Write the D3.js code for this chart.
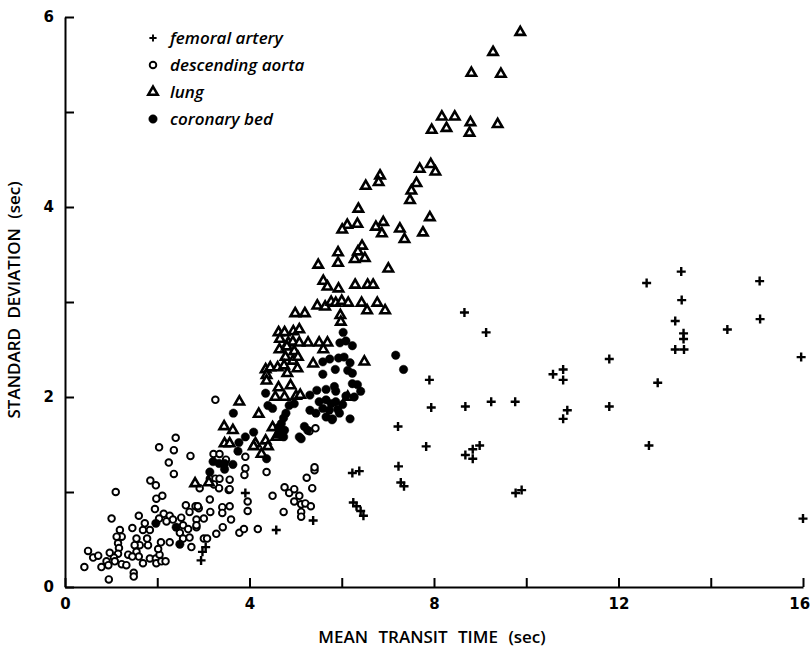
<!DOCTYPE html>
<html>
<head>
<meta charset="utf-8">
<script src="https://cdn.jsdelivr.net/npm/d3@7"></script>
<style>
  body { margin: 0; background: #fff; }
  svg { display: block; font-family: "Open Sans", "DejaVu Sans", sans-serif; }
  .tick text { font-family: "DejaVu Sans", sans-serif; font-size: 15px; font-weight: bold; fill: #000; }
  .domain, .tick line { stroke: #000; stroke-width: 2; }
</style>
</head>
<body>
<svg id="chart"></svg>
<script>
// values: [mean transit time, standard deviation] (sec)
const femoralArtery = [
  [2.95,0.28],[2.98,0.37],[3.05,0.42],[3.91,0.99],[4.58,0.60],[5.38,0.70],
  [6.23,1.20],[6.38,1.22],[7.23,1.27],[7.28,1.10],[7.35,1.06],[6.25,0.89],[6.32,0.85],[6.41,0.80],[6.47,0.75],
  [7.22,1.69],[7.90,2.18],[7.94,1.89],[7.83,1.48],
  [8.66,2.89],[9.13,2.68],[8.68,1.90],[9.24,1.95],[9.76,1.95],[8.68,1.39],[8.84,1.35],[8.84,1.45],[8.99,1.49],
  [9.77,0.99],[9.90,1.02],[10.58,2.24],[10.80,2.29],[10.80,2.18],[10.89,1.86],[10.80,1.77],
  [11.80,2.40],[11.80,1.90],[12.66,1.49],[12.85,2.15],[12.61,3.20],[13.36,3.32],[13.37,3.02],
  [13.23,2.80],[13.41,2.67],[13.41,2.61],[13.23,2.50],[13.42,2.50],[14.36,2.71],
  [15.06,3.22],[15.07,2.82],[15.96,2.42],[16.0,0.72]
];

const descendingAorta = [
  [2.40,1.57],[2.04,1.47],[2.36,1.44],[2.72,1.38],[2.25,1.31],[2.36,1.19],[1.85,1.12],[1.97,1.07],
  [1.10,1.00],[1.98,0.93],[2.11,0.96],[1.95,0.82],[2.62,0.86],[2.83,0.85],[2.90,0.83],[3.14,0.92],
  [3.15,0.79],[3.41,0.84],[3.57,0.85],[3.41,0.78],[3.60,0.71],[1.01,0.72],[1.60,0.75],[1.46,0.62],
  [2.14,0.77],[2.27,0.75],[2.04,0.72],[2.20,0.69],[2.34,0.71],[2.52,0.73],[2.56,0.65],[2.67,0.61],
  [2.49,0.57],[2.56,0.51],[2.70,0.52],[2.74,0.42],[3.01,0.51],[3.28,0.56],[2.85,0.71],[3.01,0.72],
  [2.85,0.63],[1.73,0.67],[1.69,0.60],[1.84,0.60],[1.78,0.51],[1.55,0.51],[1.62,0.44],[1.51,0.44],
  [1.55,0.37],[1.37,0.34],[1.60,0.32],[1.69,0.25],[1.84,0.30],[1.97,0.30],[1.98,0.25],[2.09,0.27],
  [2.18,0.27],[2.05,0.34],[2.02,0.40],[1.80,0.44],[1.19,0.60],[1.23,0.53],[1.12,0.53],[1.15,0.46],
  [1.17,0.41],[1.15,0.35],[1.06,0.31],[0.97,0.36],[0.90,0.27],[0.79,0.21],[0.94,0.23],[1.08,0.27],
  [1.23,0.24],[1.33,0.23],[1.46,0.32],[0.50,0.38],[0.61,0.31],[0.72,0.33],[0.42,0.21],[0.95,0.08],
  [1.49,0.15],[1.49,0.11],[2.08,0.47],[2.27,0.47],[3.42,0.63],[2.88,0.85],[2.70,0.79],[2.85,0.65],
  [3.08,0.51],[3.78,0.57],[3.88,0.61],[4.18,0.61],
  [3.26,1.97],[3.22,1.40],[3.35,1.40],[3.49,1.34],[3.91,1.37],[3.91,1.25],[3.89,1.18],[4.37,1.21],
  [3.14,1.14],[3.26,1.14],[3.35,1.14],[3.57,1.13],[3.23,1.08],[3.34,1.04],[3.55,1.02],[3.57,1.03],
  [2.92,1.04],[3.96,0.90],[3.96,0.80],[4.50,0.96],[4.74,0.79],[4.76,1.05],[4.86,0.99],[4.97,1.03],
  [5.08,0.96],[4.97,0.90],[5.12,0.87],[5.12,0.79],[5.12,0.74],[5.21,0.88],[5.33,0.85],[5.24,1.15],
  [5.36,1.04],[5.41,1.23],[5.43,1.67],[5.30,1.64],[5.41,1.26]
];

const lung = [
  [9.87,5.84],[9.28,5.63],[8.81,5.41],[9.45,5.40],[8.17,4.95],[8.45,4.95],[8.79,4.89],[9.38,4.87],
  [7.95,4.81],[8.27,4.83],[8.77,4.78],[7.93,4.45],[7.69,4.40],[8.03,4.37],[7.62,4.25],[7.51,4.17],
  [7.48,4.07],[7.91,3.89],[7.76,3.73],[6.83,4.33],[6.80,4.26],[6.52,4.22],[6.36,3.98],[6.12,3.81],
  [6.01,3.76],[6.34,3.82],[6.74,3.79],[6.90,3.84],[6.87,3.72],[7.26,3.77],[7.36,3.66],[6.44,3.59],
  [5.92,3.52],[6.35,3.53],[5.92,3.41],[6.28,3.45],[6.50,3.46],[5.49,3.39],[7.01,3.35],[5.60,3.22],
  [5.69,3.16],[5.93,3.14],[6.29,3.18],[6.56,3.18],[6.68,3.18],
  [4.99,2.88],[5.20,2.88],[5.47,2.96],[5.64,2.95],[5.77,3.00],[5.87,2.99],[6.00,3.01],[6.14,2.99],
  [5.97,2.86],[5.98,2.79],[6.43,2.99],[6.55,2.91],[6.77,2.99],[6.94,2.91],
  [4.63,2.68],[4.76,2.68],[4.95,2.69],[5.08,2.71],[4.66,2.61],[4.84,2.57],[4.94,2.58],[5.08,2.57],
  [5.27,2.57],[5.51,2.57],[5.69,2.57],[4.65,2.50],[4.81,2.53],[4.97,2.48],[5.60,2.50],[4.78,2.42],
  [4.94,2.38],[5.05,2.42],[5.38,2.35],[6.49,2.37],[4.35,2.29],[4.45,2.31],[4.61,2.31],[4.75,2.33],
  [4.82,2.25],[5.04,2.30],[4.37,2.23],[4.37,2.17],[4.63,2.10],[4.89,2.12],[4.56,2.00],[4.76,2.00],
  [5.01,2.01],[5.10,2.02],[6.13,2.00],
  [3.78,1.95],[4.20,1.82],[3.45,1.69],[3.64,1.65],[4.50,1.68],[3.46,1.51],[3.57,1.51],[4.13,1.51],
  [4.35,1.54],[4.40,1.48],[4.26,1.40],[4.09,1.48],[4.58,1.58],[4.66,1.61],[2.82,1.09],[3.12,1.10]
];

const coronaryBed = [
  [6.03,2.68],[5.96,2.57],[6.09,2.59],[6.23,2.54],[5.74,2.40],[5.59,2.37],[5.93,2.41],[6.05,2.42],
  [6.18,2.36],[6.13,2.28],[6.23,2.25],[5.86,2.29],[5.59,2.24],[6.23,2.14],[6.34,2.13],[5.84,2.11],
  [5.66,2.08],[5.46,2.07],[5.31,2.02],[5.87,2.06],[6.09,2.01],[6.27,2.00],[5.51,1.95],[5.66,1.97],
  [5.77,1.93],[5.87,1.95],[6.02,1.92],[5.59,1.88],[5.73,1.86],[5.91,1.87],[5.44,1.83],[5.66,1.79],
  [5.80,1.77],[6.18,1.77],[5.79,1.76],[5.95,1.83],[6.41,2.06],
  [4.35,2.04],[4.40,1.91],[4.50,1.88],[4.86,1.91],[4.97,1.93],[4.79,1.83],[4.74,1.78],[4.69,1.72],
  [4.63,1.68],[4.76,1.65],[4.63,1.61],[4.74,1.58],[3.65,1.83],[4.09,1.63],[3.91,1.58],[5.08,1.58],
  [5.19,1.69],[5.26,1.65],[5.12,1.56],[5.31,1.86],
  [3.21,1.32],[3.34,1.30],[3.46,1.30],[3.64,1.29],[3.77,1.52],[3.75,1.43],[3.14,1.21],[3.46,1.24],
  [4.37,1.35],[7.17,2.44],[7.34,2.29],[1.97,0.67],[2.41,0.63],[2.49,0.45]
];

const legendLabels = ["femoral artery", "descending aorta", "lung", "coronary bed"];
const xTicks = [0, 2, 4, 6, 8, 10, 12, 14, 16];
const yTicks = [0, 1, 2, 3, 4, 5, 6];

const width = 810, height = 652;
const margin = { top: 17, right: 7, bottom: 65, left: 65 };

const x = d3.scaleLinear().domain([0, 16]).range([margin.left, width - margin.right]);
const y = d3.scaleLinear().domain([0, 6]).range([height - margin.bottom, margin.top]);

const svg = d3.select("#chart").attr("width", width).attr("height", height);

// plus marker, thin strokes like the original
const plus = { draw(ctx, size) { const r = Math.sqrt(size) / 2; ctx.moveTo(-r, 0); ctx.lineTo(r, 0); ctx.moveTo(0, -r); ctx.lineTo(0, r); } };

const styles = [
  { data: femoralArtery, path: d3.symbol(plus, 81)(), fill: "none", sw: 2.4 },
  { data: descendingAorta, path: d3.symbol(d3.symbolCircle, 34)(), fill: "#fff", sw: 1.9 },
  { data: lung, path: d3.symbol(d3.symbolTriangle, 38)(), fill: "#fff", sw: 2.6 },
  { data: coronaryBed, path: d3.symbol(d3.symbolCircle, 56)(), fill: "#000", sw: 0.5 }
];

const xAxisG = svg.append("g")
  .attr("transform", `translate(0,${y(0)})`)
  .call(d3.axisBottom(x).tickValues(xTicks).tickSizeInner(-9).tickSizeOuter(0).tickPadding(11)
    .tickFormat(d => d % 4 === 0 ? d : ""));
// keep the "16" inside the page
xAxisG.selectAll(".tick text").filter(d => d === 16).attr("dx", "-0.25em");

svg.append("g")
  .attr("transform", `translate(${x(0)},0)`)
  .call(d3.axisLeft(y).tickValues(yTicks).tickSizeInner(-9).tickSizeOuter(0).tickPadding(11)
    .tickFormat(d => d % 2 === 0 ? d : ""));

// draw order: open circles, triangles, filled circles, pluses
[1, 2, 3, 0].forEach(i => {
  const s = styles[i];
  svg.append("g")
    .selectAll("path")
    .data(s.data)
    .join("path")
    .attr("d", s.path)
    .attr("transform", d => `translate(${x(d[0])},${y(d[1])})`)
    .attr("fill", s.fill)
    .attr("stroke", "#000")
    .attr("stroke-width", s.sw);
});

// legend
const legend = svg.append("g").attr("transform", "translate(153,38)");
legendLabels.forEach((label, i) => {
  const s = styles[i];
  const row = legend.append("g").attr("transform", `translate(0,${i * 27})`);
  row.append("path").attr("d", s.path).attr("fill", s.fill)
    .attr("stroke", "#000").attr("stroke-width", s.sw)
    .attr("transform", i === 0 ? "scale(0.8)" : null);
  row.append("text").attr("x", 17).attr("y", 6)
    .style("font-size", "17px").style("font-style", "italic").style("font-weight", 600)
    .text(label);
});

svg.append("text")
  .attr("x", 432).attr("y", 643)
  .attr("text-anchor", "middle")
  .style("font-size", "17px").style("font-weight", 600).style("word-spacing", "6px")
  .text("MEAN TRANSIT TIME (sec)");

svg.append("text")
  .attr("transform", "translate(20,300) rotate(-90)")
  .attr("text-anchor", "middle")
  .style("font-size", "17px").style("font-weight", 600).style("word-spacing", "5px")
  .text("STANDARD DEVIATION (sec)");
</script>
</body>
</html>
